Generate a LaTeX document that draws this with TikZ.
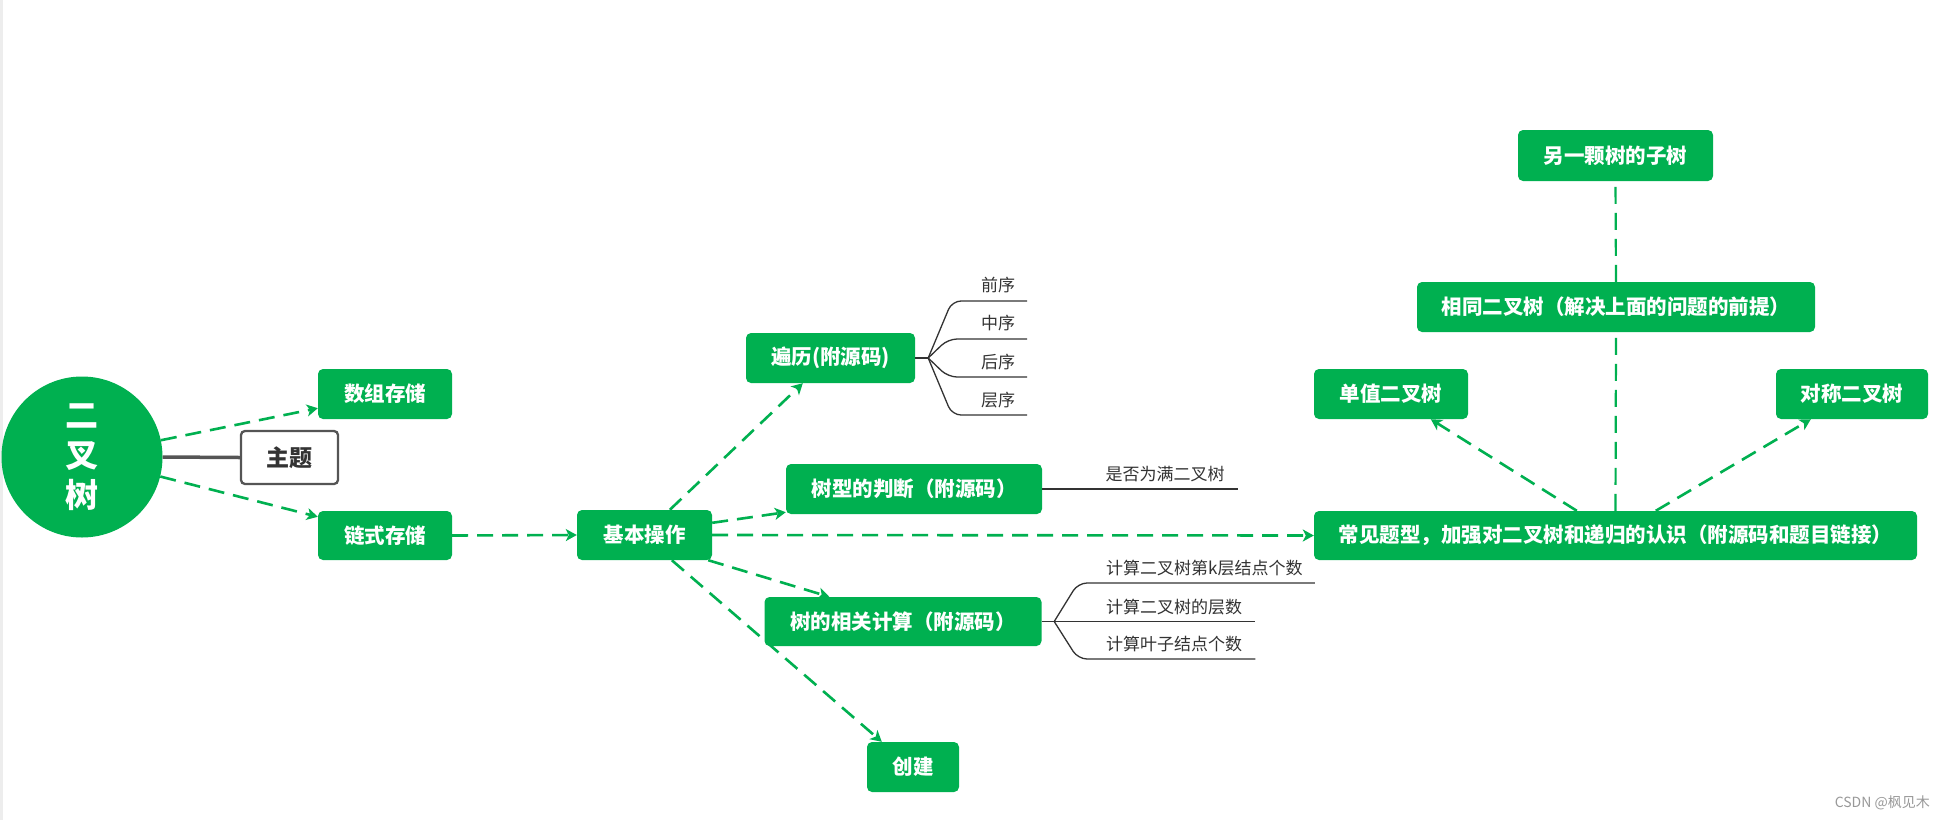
\documentclass[tikz,border=0pt]{standalone}
\usepackage{fontspec}
\setmainfont{Noto Sans CJK SC}
\usetikzlibrary{arrows.meta,calc}
\definecolor{xg}{HTML}{00B050}
\definecolor{lg}{HTML}{333333}
\definecolor{bd}{HTML}{555555}
\begin{document}
\begin{tikzpicture}[x=1pt,y=-1pt,
  box/.style={fill=xg, rounded corners=5pt, text=white, font=\bfseries\fontsize{20.5}{22}\selectfont, inner sep=0pt, minimum height=50pt},
  link/.style={draw=xg, line width=2.6pt, dash pattern=on 16pt off 9pt, -{Stealth[length=11pt,width=12pt,inset=3pt]}},
  vlink/.style={draw=xg, line width=2.2pt, dash pattern=on 17pt off 9pt},
  branch/.style={draw=lg, line width=1.3pt, rounded corners=9pt},
  leaf/.style={text=lg, font=\fontsize{17}{19}\selectfont, inner sep=0pt},
]
\useasboundingbox (0,0) rectangle (1946,820);
\fill[white] (0,0) rectangle (1946,820);
\fill[black!7] (0,0) rectangle (2.5,820);

% root and topic
\node[circle, fill=xg, minimum size=161pt, inner sep=0pt, text=white, font=\bfseries\fontsize{33}{40}\selectfont, align=center] (root) at (82,457) {二\\叉\\树};
\node[draw=bd, fill=white, line width=2.3pt, rounded corners=4pt, minimum width=97pt, minimum height=53pt, inner sep=0pt, text=lg, font=\bfseries\fontsize{23}{24}\selectfont] (zhuti) at (289.5,457.5) {主题};

% boxes
\node[box,minimum width=134pt] (shuzu) at (385,394) {数组存储};
\node[box,minimum width=134pt,minimum height=49pt] (lianshi) at (385,535.5) {链式存储};
\node[box,minimum width=135pt] (jiben) at (644.5,535) {基本操作};
\node[box,minimum width=169pt] (bianli) at (830.5,358) {遍历(附源码)};
\node[box,minimum width=256pt] (panduan) at (914,489) {树型的判断（附源码）};
\node[box,minimum width=277pt,minimum height=49pt] (jisuan) at (903,621.5) {树的相关计算（附源码）};
\node[box,minimum width=92pt] (chuangjian) at (913,767) {创建};
\node[box,minimum width=603pt,minimum height=49pt] (changjian) at (1615.5,535.5) {常见题型，加强对二叉树和递归的认识（附源码和题目链接）};
\node[box,minimum width=154pt] (danzhi) at (1391,394) {单值二叉树};
\node[box,minimum width=152pt] (duichen) at (1852,394) {对称二叉树};
\node[box,minimum width=398pt] (xiangtong) at (1616,307) {相同二叉树（解决上面的问题的前提）};
\node[box,minimum width=195pt,minimum height=51pt] (lingyi) at (1615.5,155.5) {另一颗树的子树};

% leaves
\node[leaf] (qx) at (998,285) {前序};
\node[leaf] (zx) at (998,323) {中序};
\node[leaf] (hx) at (998,362) {后序};
\node[leaf] (cx) at (998,400) {层序};
\node[leaf] (pd) at (1165,474) {是否为满二叉树};
\node[leaf,anchor=west] (j1) at (1106,568) {计算二叉树第k层结点个数};
\node[leaf,anchor=west] (j2) at (1106,607) {计算二叉树的层数};
\node[leaf,anchor=west] (j3) at (1106,644) {计算叶子结点个数};

% branches
\draw[branch] (bianli.east) -- ++(13,0) coordinate (bj);
\draw[branch] (bj) -- ($(qx.center)+(-46,16)$) -- ($(qx.center)+(29,16)$);
\draw[branch] (bj) -- ($(zx.center)+(-50,16)$) -- ($(zx.center)+(29,16)$);
\draw[branch] (bj) -- ($(hx.center)+(-50,15)$) -- ($(hx.center)+(29,15)$);
\draw[branch] (bj) -- ($(cx.center)+(-46,15)$) -- ($(cx.center)+(29,15)$);
\draw[branch] (panduan.east) -- ($(pd.east)+(13,15)$);
\draw[branch] (jisuan.east) -- ++(12.5,0) coordinate (jj);
\draw[branch] (jj) -- ($(j1.west)+(-28,15)$) -- ($(j1.east)+(12,15)$);
\draw[branch] (jj) -- ($(j2.east)+(13,14.5)$);
\draw[branch] (jj) -- ($(j3.west)+(-28,15)$) -- ($(j3.east)+(13,15)$);

% connectors
\draw[bd, line width=3.5pt] (root.east) -- (zhuti.west);
\draw[link] (root.12) -- ($(shuzu.south west)+(0,-11)$);
\draw[link] (root.-14) -- ($(lianshi.north west)+(0,6)$);
\draw[link] (lianshi.east) -- (jiben.west);
\draw[link] ($(jiben.north west)+(93,0)$) -- ($(bianli.south west)+(57,0)$);
\draw[link] ($(jiben.north east)+(0,13)$) -- ($(panduan.south west)+(0,-2)$);
\draw[link] (jiben.east) -- (changjian.west);
\draw[link] ($(jiben.south east)+(-4,0)$) -- ($(jisuan.north west)+(65,0)$);
\draw[link] ($(jiben.south west)+(95,0)$) -- ($(chuangjian.north west)+(15,0)$);
\draw[link] ($(changjian.north west)+(263,0)$) -- ($(danzhi.south west)+(117,0)$);
\draw[link] ($(changjian.north west)+(342,0)$) -- ($(duichen.south west)+(35,0)$);
\draw[vlink] (changjian.north) -- (xiangtong.south);
\draw[vlink] (xiangtong.north) -- (lingyi.south);

% watermark
\node[text=black!40, font=\fontsize{14}{16}\selectfont, anchor=east, inner sep=0pt] (wm) at (1930,803) {CSDN @枫见木};
\end{tikzpicture}
\end{document}
